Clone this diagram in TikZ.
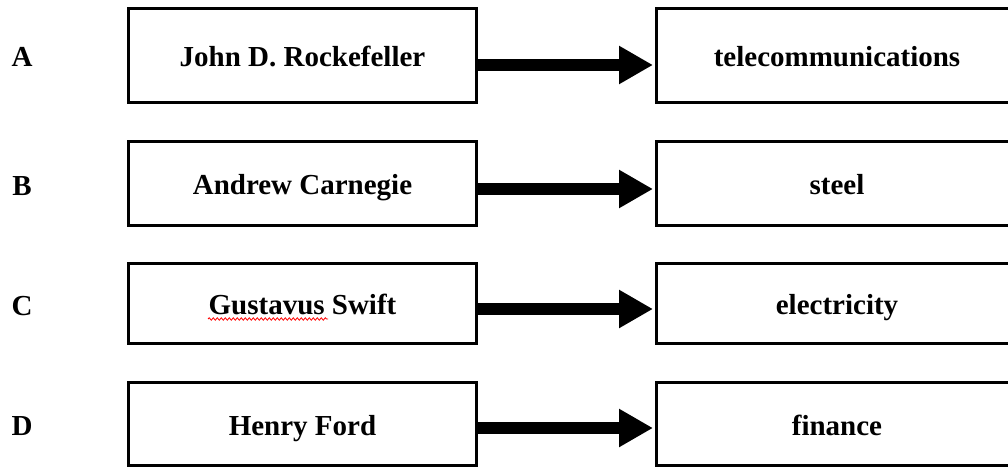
\documentclass[tikz,border=0pt]{standalone}
\usepackage{fontspec}
\setmainfont{Liberation Serif}
\usetikzlibrary{arrows.meta,decorations.pathmorphing}
\begin{document}
\begin{tikzpicture}[x=1pt,y=-1pt,
  every node/.style={font=\fontsize{29}{33}\selectfont\bfseries},
  box/.style={draw=black,line width=3pt,rectangle,inner sep=0pt,
    text height=23pt,text depth=0pt},
  lbox/.style={box,minimum width=348pt},
  rbox/.style={box,minimum width=361pt},
  rowlabel/.style={anchor=base},
  conn/.style={line width=12pt,shorten >=2pt,
    -{Triangle[length=34pt,width=36pt]}}]
\useasboundingbox (0,0) rectangle (1008,468);
\clip (0,0) rectangle (1008,468);
% row labels
\node[rowlabel] (la) at (22,67) {A};
\node[rowlabel] (lb) at (22,195) {B};
\node[rowlabel] (lc) at (22,315) {C};
\node[rowlabel] (ld) at (22,435.5) {D};
% left column: people
\node[lbox,minimum height=94pt]   (a1) at (302.5,55.5) {John D. Rockefeller};
\node[lbox,minimum height=84.5pt] (b1) at (302.5,183.3) {Andrew Carnegie};
\node[lbox,minimum height=80pt]   (c1) at (302.5,303) {Gustavus Swift};
\node[lbox,minimum height=83pt]   (d1) at (302.5,424) {Henry Ford};
% right column: industries
\node[rbox,minimum height=94pt]   (a2) at (837,55.5) {telecommunications};
\node[rbox,minimum height=84.5pt] (b2) at (837,183.3) {steel};
\node[rbox,minimum height=80pt]   (c2) at (837,303) {electricity};
\node[rbox,minimum height=83pt]   (d2) at (837,424) {finance};
% arrows
\draw[conn] ([yshift=-9.5pt]a1.east) -- ([yshift=-9.5pt]a2.west);
\draw[conn] ([yshift=-5.7pt]b1.east) -- ([yshift=-5.7pt]b2.west);
\draw[conn] ([yshift=-6pt]c1.east) -- ([yshift=-6pt]c2.west);
\draw[conn] ([yshift=-4pt]d1.east) -- ([yshift=-4pt]d2.west);
% spell-check squiggle under "Gustavus"
\coordinate (sq1) at (208,319);
\coordinate (sq2) at (328,319);
\draw[red,line width=0.8pt,decorate,
  decoration={snake,amplitude=1.2pt,segment length=4pt}] (sq1) -- (sq2);
\end{tikzpicture}
\end{document}
